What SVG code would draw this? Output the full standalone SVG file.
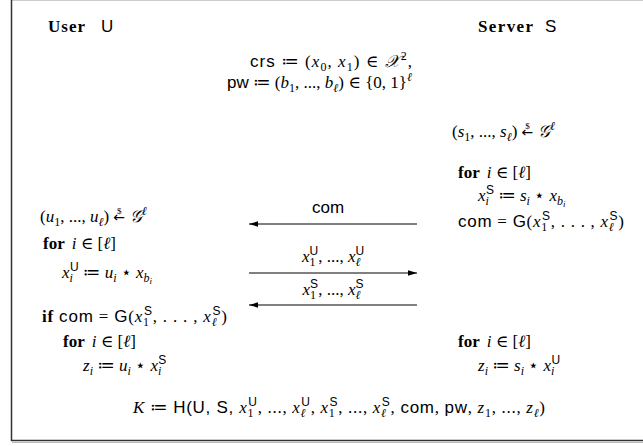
<svg xmlns="http://www.w3.org/2000/svg" width="643" height="446" viewBox="0 0 643 446">
<style>
text{font-family:"Liberation Serif","DejaVu Serif",serif;font-size:17px;fill:#000}
.m{font-style:italic}
.s{font-family:"Liberation Sans","DejaVu Sans",sans-serif;font-style:normal}
.b{font-weight:bold}
.sm{font-size:12px}
.xs{font-size:9px}
.ar{font-family:"DejaVu Sans",sans-serif;font-size:14px}
.ln{stroke:#000;stroke-width:1;fill:none}
</style>
<defs>
<marker id="ah" viewBox="0 0 10 10" refX="10" refY="5" markerWidth="9" markerHeight="9" orient="auto-start-reverse" markerUnits="userSpaceOnUse"><path d="M0,2 L10,5 L0,8 z" fill="#000"/></marker>
</defs>
<rect width="643" height="446" fill="#fff"/>
<g id="frame">
<line x1="11" y1="0.5" x2="643" y2="0.5" stroke="#ccc" stroke-width="1"/>
<path d="M11.5,0 V440.5 H643" stroke="#333" stroke-width="1.5" fill="none"/>
<line x1="12" y1="442.5" x2="643" y2="442.5" stroke="#bbb" stroke-width="1"/>
</g>
<g id="user-header"><text x="48" y="32" class="b" textLength="37">User</text><text x="101" y="32" class="s">U</text></g>
<g id="server-header"><text x="478" y="32" class="b" textLength="55">Server</text><text x="545" y="32" class="s">S</text></g>
<g id="setup">
<text x="250" y="67" textLength="162"><tspan class="s">crs</tspan><tspan> ≔ (</tspan><tspan class="m">x</tspan><tspan class="sm" dy="4">0</tspan><tspan dy="-4">, </tspan><tspan class="m">x</tspan><tspan class="sm" dy="4">1</tspan><tspan dy="-4">) ∈ </tspan><tspan class="m">𝒳</tspan><tspan class="sm" dy="-7">2</tspan><tspan dy="7">,</tspan></text>
<text x="227" y="88" textLength="185"><tspan class="s">pw</tspan><tspan> ≔ (</tspan><tspan class="m">b</tspan><tspan class="sm" dy="4">1</tspan><tspan dy="-4">, ..., </tspan><tspan class="m">b</tspan><tspan class="sm m" dy="4">ℓ</tspan><tspan dy="-4">) ∈ {0, 1}</tspan><tspan class="sm m" dy="-7">ℓ</tspan></text>
</g>
<g id="server-steps">
<text x="452" y="137"><tspan>(</tspan><tspan class="m">s</tspan><tspan class="sm" dy="4">1</tspan><tspan dy="-4">, ..., </tspan><tspan class="m">s</tspan><tspan class="sm m" dy="4">ℓ</tspan><tspan dy="-4">) </tspan><tspan class="ar">←</tspan><tspan class="xs" dx="-8" dy="-8">$</tspan><tspan dx="4" dy="8"> </tspan><tspan class="m">𝒢</tspan><tspan class="sm m" dy="-7">ℓ</tspan></text>
<text x="458" y="178"><tspan class="b">for</tspan><tspan class="m" dx="7">i</tspan><tspan> ∈ [</tspan><tspan class="m">ℓ</tspan><tspan>]</tspan></text>
<text x="478" y="201"><tspan class="m">x</tspan><tspan class="sm m" dy="4">i</tspan><tspan class="sm s" dx="-3" dy="-11">S</tspan><tspan dy="7"> ≔ </tspan><tspan class="m">s</tspan><tspan class="sm m" dy="4">i</tspan><tspan dy="-4"> ⋆ </tspan><tspan class="m">x</tspan><tspan class="sm m" dy="4">b</tspan><tspan class="xs m" dy="2">i</tspan></text>
<text x="458" y="227" textLength="166"><tspan class="s">com</tspan><tspan> = </tspan><tspan class="s">G</tspan><tspan>(</tspan><tspan class="m">x</tspan><tspan class="sm" dy="4">1</tspan><tspan class="sm s" dx="-6" dy="-11">S</tspan><tspan dy="7">, . . . , </tspan><tspan class="m">x</tspan><tspan class="sm m" dy="4">ℓ</tspan><tspan class="sm s" dx="-5" dy="-11">S</tspan><tspan dy="7">)</tspan></text>
<text x="458" y="347"><tspan class="b">for</tspan><tspan class="m" dx="7">i</tspan><tspan> ∈ [</tspan><tspan class="m">ℓ</tspan><tspan>]</tspan></text>
<text x="478" y="371"><tspan class="m">z</tspan><tspan class="sm m" dy="4">i</tspan><tspan dy="-4"> ≔ </tspan><tspan class="m">s</tspan><tspan class="sm m" dy="4">i</tspan><tspan dy="-4"> ⋆ </tspan><tspan class="m">x</tspan><tspan class="sm m" dy="4">i</tspan><tspan class="sm s" dx="-3" dy="-11">U</tspan></text>
</g>
<g id="user-steps">
<text x="40" y="222"><tspan>(</tspan><tspan class="m">u</tspan><tspan class="sm" dy="4">1</tspan><tspan dy="-4">, ..., </tspan><tspan class="m">u</tspan><tspan class="sm m" dy="4">ℓ</tspan><tspan dy="-4">) </tspan><tspan class="ar">←</tspan><tspan class="xs" dx="-8" dy="-8">$</tspan><tspan dx="4" dy="8"> </tspan><tspan class="m">𝒢</tspan><tspan class="sm m" dy="-7">ℓ</tspan></text>
<text x="43" y="249"><tspan class="b">for</tspan><tspan class="m" dx="7">i</tspan><tspan> ∈ [</tspan><tspan class="m">ℓ</tspan><tspan>]</tspan></text>
<text x="62" y="278"><tspan class="m">x</tspan><tspan class="sm m" dy="4">i</tspan><tspan class="sm s" dx="-3" dy="-11">U</tspan><tspan dy="7"> ≔ </tspan><tspan class="m">u</tspan><tspan class="sm m" dy="4">i</tspan><tspan dy="-4"> ⋆ </tspan><tspan class="m">x</tspan><tspan class="sm m" dy="4">b</tspan><tspan class="xs m" dy="2">i</tspan></text>
<text x="42" y="322" textLength="185"><tspan class="b">if </tspan><tspan class="s">com</tspan><tspan> = </tspan><tspan class="s">G</tspan><tspan>(</tspan><tspan class="m">x</tspan><tspan class="sm" dy="4">1</tspan><tspan class="sm s" dx="-6" dy="-11">S</tspan><tspan dy="7">, . . . , </tspan><tspan class="m">x</tspan><tspan class="sm m" dy="4">ℓ</tspan><tspan class="sm s" dx="-5" dy="-11">S</tspan><tspan dy="7">)</tspan></text>
<text x="63" y="347"><tspan class="b">for</tspan><tspan class="m" dx="7">i</tspan><tspan> ∈ [</tspan><tspan class="m">ℓ</tspan><tspan>]</tspan></text>
<text x="83" y="371"><tspan class="m">z</tspan><tspan class="sm m" dy="4">i</tspan><tspan dy="-4"> ≔ </tspan><tspan class="m">u</tspan><tspan class="sm m" dy="4">i</tspan><tspan dy="-4"> ⋆ </tspan><tspan class="m">x</tspan><tspan class="sm m" dy="4">i</tspan><tspan class="sm s" dx="-3" dy="-11">S</tspan></text>
</g>
<g id="connectors">
<line class="ln" x1="417" y1="224" x2="249" y2="224" marker-end="url(#ah)"/>
<line class="ln" x1="249" y1="273" x2="417" y2="273" marker-end="url(#ah)"/>
<line class="ln" x1="417" y1="305" x2="249" y2="305" marker-end="url(#ah)"/>
<text x="328" y="213" text-anchor="middle" class="s">com</text>
<text x="333" y="262" text-anchor="middle"><tspan class="m">x</tspan><tspan class="sm" dy="4">1</tspan><tspan class="sm s" dx="-6" dy="-11">U</tspan><tspan dy="7">, ..., </tspan><tspan class="m">x</tspan><tspan class="sm m" dy="4">ℓ</tspan><tspan class="sm s" dx="-5" dy="-11">U</tspan><tspan dy="7"></tspan></text>
<text x="333" y="295" text-anchor="middle"><tspan class="m">x</tspan><tspan class="sm" dy="4">1</tspan><tspan class="sm s" dx="-6" dy="-11">S</tspan><tspan dy="7">, ..., </tspan><tspan class="m">x</tspan><tspan class="sm m" dy="4">ℓ</tspan><tspan class="sm s" dx="-5" dy="-11">S</tspan><tspan dy="7"></tspan></text>
</g>
<g id="key">
<text x="133" y="413" textLength="412"><tspan class="m">K</tspan><tspan> ≔ </tspan><tspan class="s">H(U, S, </tspan><tspan class="m">x</tspan><tspan class="sm" dy="4">1</tspan><tspan class="sm s" dx="-6" dy="-11">U</tspan><tspan dy="7">, ..., </tspan><tspan class="m">x</tspan><tspan class="sm m" dy="4">ℓ</tspan><tspan class="sm s" dx="-5" dy="-11">U</tspan><tspan dy="7">, </tspan><tspan class="m">x</tspan><tspan class="sm" dy="4">1</tspan><tspan class="sm s" dx="-6" dy="-11">S</tspan><tspan dy="7">, ..., </tspan><tspan class="m">x</tspan><tspan class="sm m" dy="4">ℓ</tspan><tspan class="sm s" dx="-5" dy="-11">S</tspan><tspan dy="7">, </tspan><tspan class="s">com</tspan><tspan>, </tspan><tspan class="s">pw</tspan><tspan>, </tspan><tspan class="m">z</tspan><tspan class="sm" dy="4">1</tspan><tspan dy="-4">, ..., </tspan><tspan class="m">z</tspan><tspan class="sm m" dy="4">ℓ</tspan><tspan dy="-4">)</tspan></text>
</g>
</svg>
